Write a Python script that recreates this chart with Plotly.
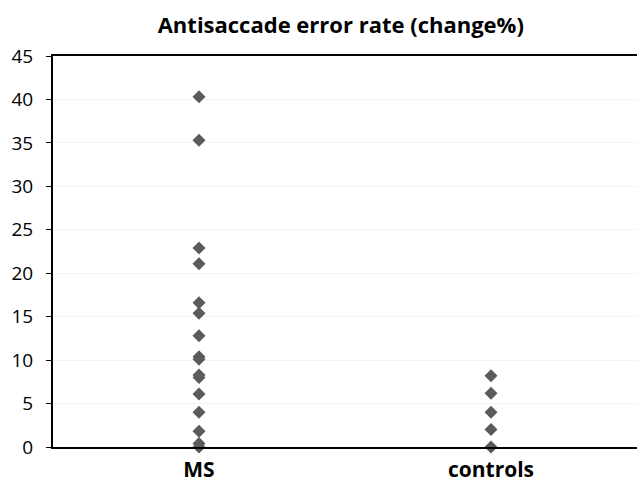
import plotly.graph_objects as go

categories = ["MS", "controls"]
ms_values = [40.3, 35.3, 22.9, 21.1, 16.6, 15.4, 12.8, 10.4, 10.1, 8.3, 8.0, 6.1, 4.0, 1.8, 0.4, 0.0]
control_values = [8.2, 6.2, 4.0, 2.0, 0.0]
y_ticks = [0, 5, 10, 15, 20, 25, 30, 35, 40, 45]

xs = [categories[0]] * len(ms_values) + [categories[1]] * len(control_values)
ys = ms_values + control_values

fig = go.Figure()
fig.add_trace(go.Scatter(
    x=xs, y=ys, mode="markers",
    marker=dict(symbol="diamond", size=10, color="#5b5b5b"),
    cliponaxis=False, showlegend=False,
))

fig.update_layout(
    width=637, height=488,
    margin=dict(l=53, r=0, t=56, b=41),
    paper_bgcolor="white", plot_bgcolor="white",
    title=dict(text="<b>Antisaccade error rate (change%)</b>", x=0.535, xanchor="center",
               y=0.949, yanchor="middle",
               font=dict(family="Open Sans", size=22, color="black")),
    xaxis=dict(type="category", categoryarray=categories, range=[-0.5, 1.5],
               showline=True, linecolor="black", linewidth=2, mirror=True,
               ticks="", showgrid=False, ticklabelstandoff=3,
               tickfont=dict(family="Open Sans", size=21, color="black", weight="bold")),
    yaxis=dict(range=[0, 45], tickvals=y_ticks, showline=True, linecolor="black", linewidth=2,
               ticks="outside", ticklen=5, tickwidth=1, tickcolor="black",
               showgrid=True, gridcolor="#f4f4f4", zeroline=False,
               ticklabelstandoff=9,
               tickfont=dict(family="Open Sans", size=19, color="black")),
)

fig.write_html("out.html")
